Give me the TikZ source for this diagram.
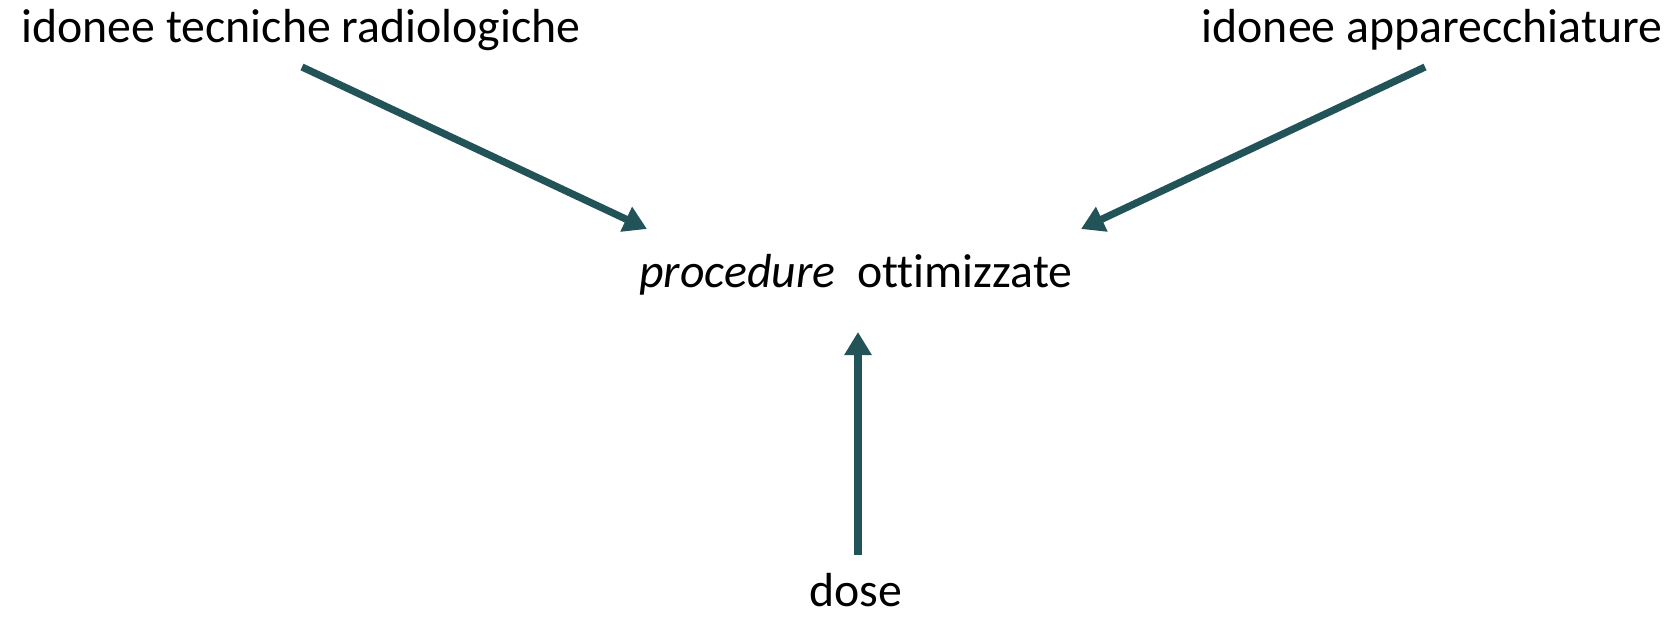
\documentclass[tikz,border=0pt]{standalone}
\usepackage{fontspec}
\setmainfont[Ligatures={NoCommon}]{Carlito}
\usetikzlibrary{arrows.meta}
\definecolor{teal}{RGB}{33,83,89}
\begin{document}
\begin{tikzpicture}[x=1pt,y=-1pt,
  lbl/.style={inner sep=0pt,anchor=base,font=\fontsize{47.8}{55}\selectfont},
  arr/.style={draw=teal,line width=7.2pt,-{Triangle[width=26pt,length=23pt]}}]
\useasboundingbox (0,0) rectangle (1673,618);
\node[lbl] (tl) at (301,43) {idonee tecniche radiologiche};
\node[lbl] (tr) at (1432,43) {idonee apparecchiature};
\node[lbl] (mid) at (856,287) {\textit{procedure}\ \ ottimizzate};
\node[lbl] (dose) at (856,606) {dose};
\coordinate (a1) at (302,67);
\coordinate (b1) at (647,229);
\coordinate (a2) at (1425,67);
\coordinate (b2) at (1081,229);
\coordinate (a3) at (858,555);
\coordinate (b3) at (858,332);
\draw[arr] (a1) -- (b1);
\draw[arr] (a2) -- (b2);
\draw[arr] (a3) -- (b3);
\end{tikzpicture}
\end{document}
